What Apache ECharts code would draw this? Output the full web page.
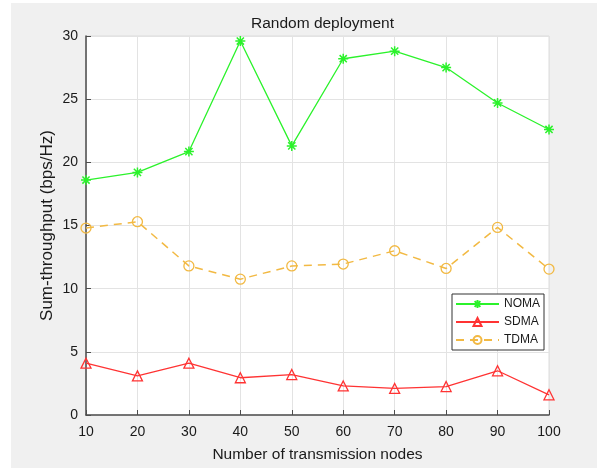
<!DOCTYPE html>
<html>
<head>
<meta charset="utf-8">
<script src="https://cdn.jsdelivr.net/npm/echarts@6/dist/echarts.min.js"></script>
<style>
html,body{margin:0;padding:0;background:#fff;}
#c{position:absolute;left:11px;top:3px;width:586px;height:465px;}
</style>
</head>
<body>
<div id="c"></div>
<script>
const nodes = [10, 20, 30, 40, 50, 60, 70, 80, 90, 100];
const noma = [18.6, 19.2, 20.85, 29.6, 21.3, 28.2, 28.8, 27.5, 24.7, 22.6];
const sdma = [4.1, 3.1, 4.1, 2.95, 3.2, 2.3, 2.1, 2.25, 3.5, 1.6];
const tdma = [14.8, 15.3, 11.8, 10.75, 11.8, 11.95, 13.0, 11.6, 14.85, 11.55];

const pair = arr => nodes.map((x, i) => [x, arr[i]]);
const FONT = 'Liberation Sans, Arial, Helvetica, sans-serif';
const asterisk = 'path://M0,-5L0,5M-5,0L5,0M-3.6,-3.6L3.6,3.6M-3.6,3.6L3.6,-3.6';

const chart = echarts.init(document.getElementById('c'));
chart.setOption({
  backgroundColor: '#f0f0f0',
  animation: false,
  textStyle: { fontFamily: FONT },
  title: {
    text: 'Random deployment',
    left: 306.5, top: 8, textAlign: 'center',
    textStyle: { fontSize: 15.5, fontWeight: 'normal', color: '#1a1a1a', fontFamily: FONT }
  },
  grid: {
    left: 75, right: 48, top: 33, bottom: 48,
    show: true, backgroundColor: '#fff', borderColor: '#dcdcdc', borderWidth: 1
  },
  legend: {
    orient: 'vertical', left: 441, top: 291,
    backgroundColor: '#fff', borderColor: '#333', borderWidth: 1,
    padding: [4, 4, 4, 3], itemGap: 6, itemWidth: 43, itemHeight: 10,
    textStyle: { fontSize: 12, color: '#1a1a1a', fontFamily: FONT },
    data: ['NOMA', 'SDMA', 'TDMA']
  },
  xAxis: {
    type: 'value', min: 10, max: 100, interval: 10,
    name: 'Number of transmission nodes', nameLocation: 'middle', nameGap: 32,
    nameTextStyle: { fontSize: 15.5, color: '#1a1a1a', fontFamily: FONT },
    axisLine: { show: true, lineStyle: { color: '#4d4d4d', width: 1.5 } },
    axisTick: { show: true, inside: true, length: 5, lineStyle: { color: '#4d4d4d' } },
    axisLabel: { fontSize: 14, color: '#1a1a1a', margin: 10, fontFamily: FONT },
    splitLine: { show: true, lineStyle: { color: '#e3e3e3', width: 1 } }
  },
  yAxis: {
    type: 'value', min: 0, max: 30, interval: 5,
    name: 'Sum-throughput (bps/Hz)', nameLocation: 'middle', nameGap: 30,
    nameMoveOverlap: false,
    nameTextStyle: { fontSize: 17, color: '#1a1a1a', fontFamily: FONT },
    axisLine: { show: true, lineStyle: { color: '#4d4d4d', width: 1.5 } },
    axisTick: { show: true, inside: true, length: 5, lineStyle: { color: '#4d4d4d' } },
    axisLabel: { fontSize: 14, color: '#1a1a1a', margin: 8, fontFamily: FONT },
    splitLine: { show: true, lineStyle: { color: '#e3e3e3', width: 1 } }
  },
  series: [
    {
      name: 'NOMA', type: 'line', data: pair(noma),
      symbol: asterisk, symbolSize: 10,
      lineStyle: { color: '#2bf22b', width: 1.3 },
      itemStyle: { color: 'rgba(0,0,0,0)', borderColor: '#2bf22b', borderWidth: 1.5 }
    },
    {
      name: 'SDMA', type: 'line', data: pair(sdma),
      symbol: 'triangle', symbolSize: 10,
      lineStyle: { color: '#ff3333', width: 1.3 },
      itemStyle: { color: 'rgba(0,0,0,0)', borderColor: '#ff3333', borderWidth: 1.3 }
    },
    {
      name: 'TDMA', type: 'line', data: pair(tdma),
      symbol: 'circle', symbolSize: 10,
      lineStyle: { color: '#f2b943', width: 1.5, type: [8, 6] },
      itemStyle: { color: 'rgba(0,0,0,0)', borderColor: '#f2b943', borderWidth: 1.3 }
    }
  ]
});
</script>
</body>
</html>
